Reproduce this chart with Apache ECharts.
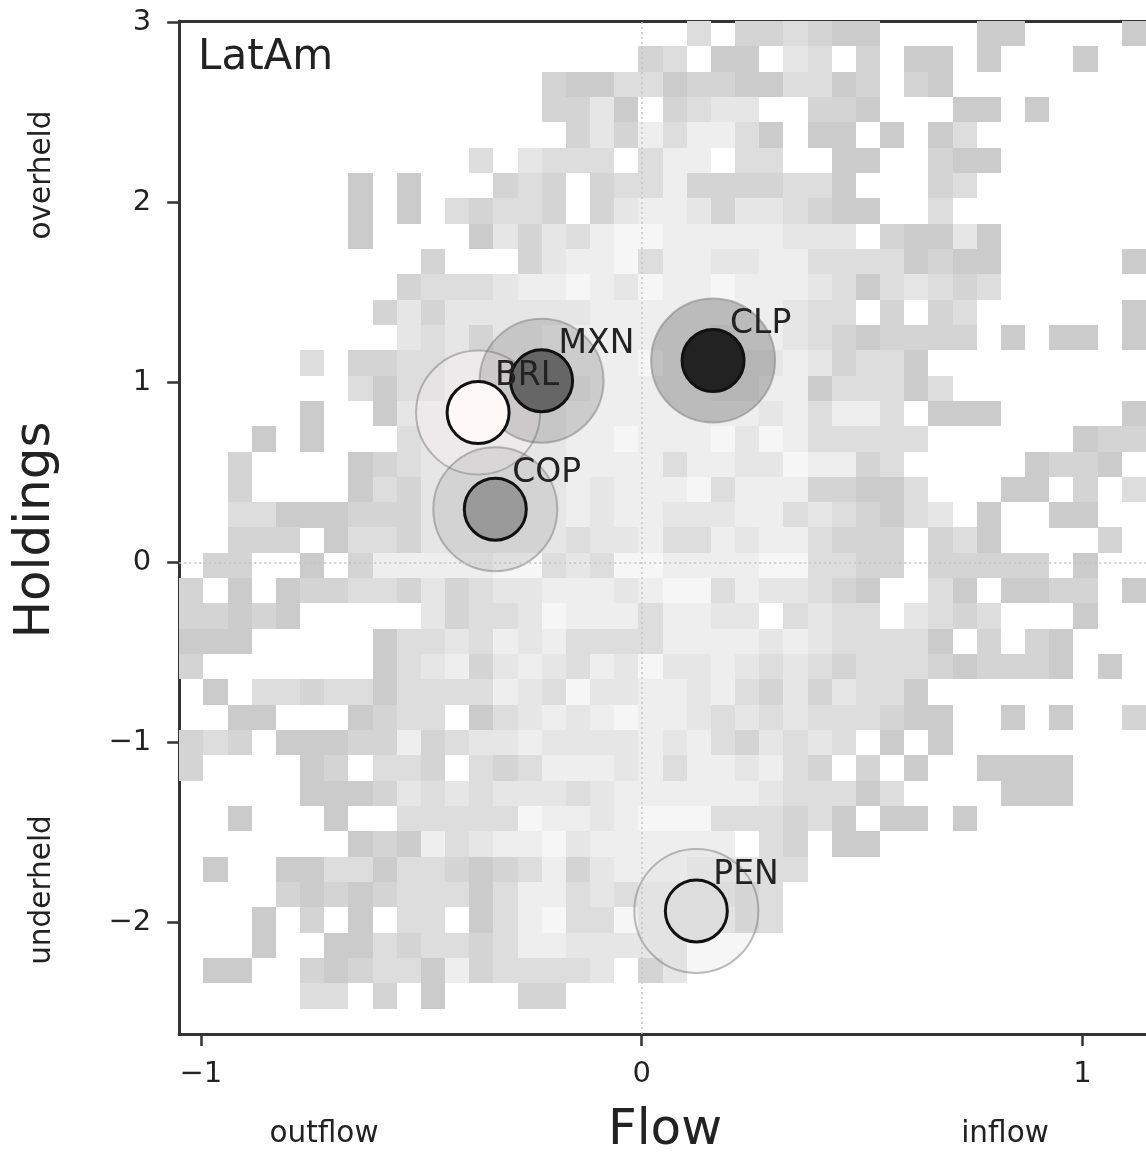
<!DOCTYPE html>
<html><head><meta charset="utf-8">
<script src="https://cdn.jsdelivr.net/npm/echarts@6/dist/echarts.min.js"></script>
<style>html,body{margin:0;padding:0;background:#fff}#c{width:1146px;height:1155px}</style>
</head><body><div id="c"></div>
<script>
// 2D histogram shade levels (row 0 = top), '.' = empty bin, 1 = sparse (dark) .. 6 = dense (light)
const histRows = [
  "...................." + ".3.223211." + "...11....1",
  "...................2" + "3.11.43.2." + "11.1...1..",
  "...............21133" + "122113312." + "21........",
  "...............2241." + "2344..221." + "..11.1....",
  "................2425" + "35531.11.1" + ".13.......",
  "............3.4333.3" + "55.33..11." + ".211......",
  ".......1.1...232.233" + "52222331.." + ".23.......",
  ".......1.1.32332.245" + "542443211." + ".3........",
  ".......1....14243566" + "55555444.2" + "1141......",
  "..........2...245563" + "5544553333" + "1211.....1",
  ".........23334556546" + "5565554313" + "4323......",
  "........242444444555" + "55555433.2" + ".23......1",
  ".........43424455555" + "5545543212" + "222.1.11.1",
  ".....3.2233444445556" + "5554454233" + "1.........",
  ".......3133444444555" + "5544551333" + "13........",
  ".....1..144444445555" + "5555453553" + ".111.....1",
  "...1.1...34444445565" + "5564653333" + "3......122",
  "..2....1234444445555" + "3554465523" + ".....1221.",
  "..2....1324444445455" + "5635552211" + "3...11.2.3",
  "..331112224444445455" + "4445534321" + "34.1..11..",
  "..222.13324444443445" + "3354553222" + ".231....2.",
  ".22..1.2555556634366" + "5555663322" + ".22222.1..",
  "2.1.1223324234455545" + "663544321." + ".31.1122.1",
  "22121.....4233465553" + "5544.3433." + "4323...1..",
  "111.....133435453333" + "5555454333" + "31.2.21...",
  "2.......134524543546" + "4454343233" + "3212221.1.",
  ".1.33233133335436445" + "5453242433" + "1.........",
  "..11...1233.13454565" + "5434343332" + "11..1.1..2",
  "232.1112252344544445" + "45324343.1" + ".1........",
  "2....12.332.32355545" + "3554532.2." + "1..1111...",
  ".....111243434443455" + "5555433313" + "....111...",
  "..1...1..33333655456" + "66333231.1" + "1.1.......",
  ".......1215345564555" + "555.32.11." + "..........",
  ".1..1133133212352455" + "544433...." + "..........",
  "....2121233313553434" + "44323....." + "..........",
  "...1.2.1.33.13563364" + "44423....." + "..........",
  "...1..11323323554444" + "4........." + "..........",
  ".11..2123315233334.2" + "4........." + "..........",
  ".....33.2.1...22...." + ".........." + "..........",
  "...................." + ".........." + ".........."
];
const binCount = 40;
const flowRange = [-1.049, 1.144];
const holdRange = [-2.618, 3.009];
const xTickValues = [-1, 0, 1];
const yTickValues = [-2, -1, 0, 1, 2, 3];

const currencies = ['BRL', 'MXN', 'COP', 'CLP', 'PEN'];
const flowValues = [-0.371, -0.227, -0.332, 0.162, 0.124];
const holdingValues = [0.834, 1.011, 0.297, 1.123, -1.935];

// styles
const shadeColors = {1:'#cbcbcb', 2:'#d4d4d4', 3:'#dddddd', 4:'#e6e6e6', 5:'#eeeeee', 6:'#f6f6f6'};
const currencyFill = ['#fff8f8', '#666666', '#9a9a9a', '#222222', '#dddddd'];
const FONT = '"DejaVu Sans", "Liberation Sans", sans-serif';

function rgba(hex, a) {
  const n = parseInt(hex.slice(1), 16);
  return 'rgba(' + ((n >> 16) & 255) + ',' + ((n >> 8) & 255) + ',' + (n & 255) + ',' + a + ')';
}
const fmt = v => (v < 0 ? '\u2212' + Math.abs(v) : String(v));

const dx = (flowRange[1] - flowRange[0]) / binCount;
const dy = (holdRange[1] - holdRange[0]) / binCount;
const cells = [];
histRows.forEach((row, r) => {
  for (let c = 0; c < binCount; c++) {
    const ch = row[c];
    if (ch && ch !== '.') cells.push([flowRange[0] + c * dx, holdRange[1] - r * dy, +ch]);
  }
});

const chart = echarts.init(document.getElementById('c'), null, {renderer: 'canvas'});
const axisLineStyle = {color: '#333', width: 3};
function txt(x, y, text, size, rot, align) {
  return {type: 'text', x: x, y: y, rotation: rot || 0, silent: true, z: 10,
    style: {text: text, font: size + 'px ' + FONT, fill: '#222',
      align: align || 'center', verticalAlign: 'middle', textAlign: align || 'center', textVerticalAlign: 'middle'}};
}
chart.setOption({
  animation: false,
  backgroundColor: '#fff',
  grid: {left: 179.2, top: 21.1, width: 967.1, height: 1012.8, containLabel: false},
  xAxis: [{
    type: 'value', min: flowRange[0], max: flowRange[1],
    axisLine: {show: true, onZero: false, lineStyle: axisLineStyle},
    axisTick: {show: true, length: 12, lineStyle: {color: '#333', width: 2.5}, customValues: xTickValues},
    axisLabel: {show: true, margin: 26, fontSize: 29, color: '#222', fontFamily: FONT, customValues: xTickValues, formatter: fmt},
    splitLine: {show: false}
  }, {
    type: 'value', position: 'top', min: flowRange[0], max: flowRange[1],
    axisLine: {show: true, onZero: false, lineStyle: axisLineStyle},
    axisTick: {show: false}, axisLabel: {show: false}, splitLine: {show: false}
  }],
  yAxis: {
    type: 'value', min: holdRange[0], max: holdRange[1],
    axisLine: {show: true, onZero: false, lineStyle: axisLineStyle},
    axisTick: {show: true, length: 12, lineStyle: {color: '#333', width: 2.5}, customValues: yTickValues},
    axisLabel: {show: true, margin: 28, fontSize: 29, color: '#222', fontFamily: FONT, customValues: yTickValues, formatter: fmt},
    splitLine: {show: false}
  },
  series: [
    {
      type: 'custom', silent: true, z: 1, clip: true,
      data: cells,
      encode: {x: 0, y: 1},
      renderItem: function (params, api) {
        const x0 = api.value(0), yT = api.value(1), lv = api.value(2);
        const p0 = api.coord([x0, yT]);
        const p1 = api.coord([x0 + dx, yT - dy]);
        const x = Math.round(p0[0]), y = Math.round(p0[1]);
        return {
          type: 'rect',
          shape: {x: x, y: y, width: Math.round(p1[0]) - x, height: Math.round(p1[1]) - y},
          style: {fill: shadeColors[lv]}
        };
      }
    },
    {
      type: 'line', data: [], silent: true, z: 3,
      markLine: {
        silent: true, symbol: 'none', animation: false,
        label: {show: false},
        lineStyle: {type: [2, 3], color: '#c4c4c4', width: 1.5},
        data: [{xAxis: 0}, {yAxis: 0}]
      }
    },
    {
      type: 'scatter', silent: true, z: 4, symbol: 'circle', symbolSize: 124,
      data: currencies.map((n, i) => ({
        name: n, value: [flowValues[i], holdingValues[i]],
        itemStyle: {color: rgba(currencyFill[i], 0.25), borderColor: 'rgba(110,110,110,0.45)', borderWidth: 2, opacity: 1}
      }))
    },
    {
      type: 'scatter', silent: true, z: 5, symbol: 'circle', symbolSize: 62,
      data: currencies.map((n, i) => ({
        name: n, value: [flowValues[i], holdingValues[i]],
        itemStyle: {color: currencyFill[i], borderColor: '#111', borderWidth: 3, opacity: 1}
      })),
      label: {
        show: true, formatter: '{b}', position: 'inside', align: 'left', verticalAlign: 'middle',
        offset: [17, -36], fontSize: 33, color: '#222', fontFamily: FONT
      }
    }
  ],
  graphic: [
    txt(198, 58, 'LatAm', 42, 0, 'left'),
    txt(36, 530, 'Holdings', 50, Math.PI / 2),
    txt(42, 175, 'overheld', 29.5, Math.PI / 2),
    txt(42, 890, 'underheld', 29.5, Math.PI / 2),
    txt(324, 1134, 'outflow', 29.5),
    txt(665, 1131, 'Flow', 50),
    txt(1005, 1134, 'inflow', 29.5)
  ]
});
</script>
</body></html>
